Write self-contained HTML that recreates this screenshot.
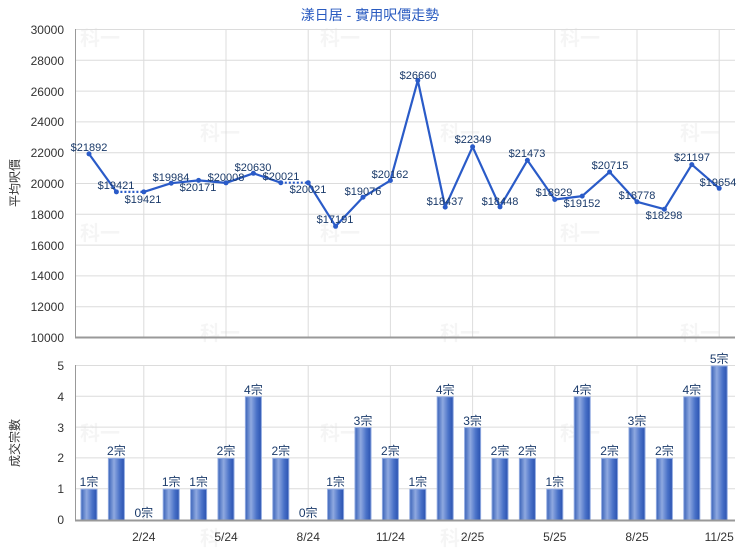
<!DOCTYPE html>
<html><head><meta charset="utf-8"><style>
body{margin:0;background:#fff}
svg{display:block;font-family:"Liberation Sans","Noto Sans CJK TC",sans-serif}
</style></head><body>
<svg width="740" height="550" viewBox="0 0 740 550" xmlns="http://www.w3.org/2000/svg">
<defs>
<linearGradient id="bg" x1="0" x2="1" y1="0" y2="0">
<stop offset="0" stop-color="#3a63b8"/><stop offset="0.35" stop-color="#8fa9e0"/><stop offset="0.7" stop-color="#4a72c8"/><stop offset="1" stop-color="#2a52b0"/>
</linearGradient>
</defs>
<text x="370" y="20" text-anchor="middle" font-size="14" fill="#2a5bc0">漾日居 - 實用呎價走勢</text>
<g font-size="20" font-weight="bold" fill="#000" opacity="0.035">
<text x="80" y="45">科一</text><text x="320" y="45">科一</text><text x="560" y="45">科一</text>
<text x="200" y="140">科一</text><text x="440" y="140">科一</text><text x="680" y="140">科一</text>
<text x="80" y="240">科一</text><text x="320" y="240">科一</text><text x="560" y="240">科一</text>
<text x="200" y="340">科一</text><text x="440" y="340">科一</text><text x="680" y="340">科一</text>
<text x="80" y="440">科一</text><text x="320" y="440">科一</text><text x="560" y="440">科一</text>
<text x="200" y="545">科一</text><text x="440" y="545">科一</text>
</g>
<g stroke="#dcdcdc" stroke-width="1">
<line x1="75" x2="735" y1="29.5" y2="29.5"/><line x1="75" x2="735" y1="60.3" y2="60.3"/><line x1="75" x2="735" y1="91.1" y2="91.1"/><line x1="75" x2="735" y1="121.9" y2="121.9"/><line x1="75" x2="735" y1="152.7" y2="152.7"/><line x1="75" x2="735" y1="183.5" y2="183.5"/><line x1="75" x2="735" y1="214.3" y2="214.3"/><line x1="75" x2="735" y1="245.1" y2="245.1"/><line x1="75" x2="735" y1="275.9" y2="275.9"/><line x1="75" x2="735" y1="306.7" y2="306.7"/>
<line x1="143.8" x2="143.8" y1="29" y2="337"/><line x1="226" x2="226" y1="29" y2="337"/><line x1="308.2" x2="308.2" y1="29" y2="337"/><line x1="390.4" x2="390.4" y1="29" y2="337"/><line x1="472.6" x2="472.6" y1="29" y2="337"/><line x1="554.8" x2="554.8" y1="29" y2="337"/><line x1="637" x2="637" y1="29" y2="337"/><line x1="719.2" x2="719.2" y1="29" y2="337"/>
</g>
<line x1="75.5" x2="75.5" y1="29" y2="338" stroke="#999" stroke-width="1"/>
<line x1="75" x2="735" y1="337.5" y2="337.5" stroke="#999" stroke-width="2"/>
<g font-size="12" fill="#333" text-anchor="end">
<text x="64" y="34">30000</text><text x="64" y="65">28000</text><text x="64" y="96">26000</text><text x="64" y="126">24000</text><text x="64" y="157">22000</text><text x="64" y="188">20000</text><text x="64" y="219">18000</text><text x="64" y="250">16000</text><text x="64" y="280">14000</text><text x="64" y="311">12000</text><text x="64" y="342">10000</text>
</g>
<text transform="translate(19,183) rotate(-90)" text-anchor="middle" font-size="12" fill="#333">平均呎價</text>
<g fill="none" stroke="#2a5bc8" stroke-width="2.2" stroke-linejoin="round">
<polyline points="89,153.9 116.4,191.9"/>
<polyline points="143.8,191.9 171.2,183.2 198.6,180.4 226,182.9 253.4,173.3 280.8,182.7"/>
<polyline points="308.2,182.7 335.6,226.3 363,197.2 390.4,180.5 417.8,80.4 445.2,207.1 472.6,146.8 500,206.9 527.4,160.3 554.8,199.5 582.2,196.1 609.6,172 637,201.8 664.4,209.2 691.8,164.6 719.2,188.3"/>
</g>
<g fill="none" stroke="#2a5bc8" stroke-width="2.2" stroke-dasharray="2,2">
<line x1="116.4" y1="191.9" x2="143.8" y2="191.9"/><line x1="280.8" y1="182.7" x2="308.2" y2="182.7"/>
</g>
<g fill="#2a5bc8">
<circle cx="89" cy="153.9" r="2.5"/><circle cx="116.4" cy="191.9" r="2.5"/><circle cx="143.8" cy="191.9" r="2.5"/><circle cx="171.2" cy="183.2" r="2.5"/><circle cx="198.6" cy="180.4" r="2.5"/><circle cx="226" cy="182.9" r="2.5"/><circle cx="253.4" cy="173.3" r="2.5"/><circle cx="280.8" cy="182.7" r="2.5"/><circle cx="308.2" cy="182.7" r="2.5"/><circle cx="335.6" cy="226.3" r="2.5"/><circle cx="363" cy="197.2" r="2.5"/><circle cx="390.4" cy="180.5" r="2.5"/><circle cx="417.8" cy="80.4" r="2.5"/><circle cx="445.2" cy="207.1" r="2.5"/><circle cx="472.6" cy="146.8" r="2.5"/><circle cx="500" cy="206.9" r="2.5"/><circle cx="527.4" cy="160.3" r="2.5"/><circle cx="554.8" cy="199.5" r="2.5"/><circle cx="582.2" cy="196.1" r="2.5"/><circle cx="609.6" cy="172" r="2.5"/><circle cx="637" cy="201.8" r="2.5"/><circle cx="664.4" cy="209.2" r="2.5"/><circle cx="691.8" cy="164.6" r="2.5"/><circle cx="719.2" cy="188.3" r="2.5"/>
</g>
<g font-size="11" fill="#1a3a6a" text-anchor="middle">
<text x="89" y="151">$21892</text><text x="116" y="189">$19421</text><text x="143" y="203">$19421</text><text x="171" y="181">$19984</text><text x="198" y="191">$20171</text><text x="226" y="181">$20008</text><text x="253" y="171">$20630</text><text x="281" y="180">$20021</text><text x="308" y="193">$20021</text><text x="335" y="223">$17191</text><text x="363" y="195">$19076</text><text x="390" y="178">$20162</text><text x="418" y="79">$26660</text><text x="445" y="205">$18437</text><text x="473" y="143">$22349</text><text x="500" y="205">$18448</text><text x="527" y="157">$21473</text><text x="554" y="196">$18929</text><text x="582" y="207">$19152</text><text x="610" y="169">$20715</text><text x="637" y="199">$18778</text><text x="664" y="219">$18298</text><text x="692" y="161">$21197</text><text x="718" y="186">$19654</text>
</g>
<g stroke="#dcdcdc" stroke-width="1">
<line x1="75" x2="735" y1="365.5" y2="365.5"/><line x1="75" x2="735" y1="396.3" y2="396.3"/><line x1="75" x2="735" y1="427.1" y2="427.1"/><line x1="75" x2="735" y1="457.9" y2="457.9"/><line x1="75" x2="735" y1="488.7" y2="488.7"/>
<line x1="143.8" x2="143.8" y1="365" y2="520"/><line x1="226" x2="226" y1="365" y2="520"/><line x1="308.2" x2="308.2" y1="365" y2="520"/><line x1="390.4" x2="390.4" y1="365" y2="520"/><line x1="472.6" x2="472.6" y1="365" y2="520"/><line x1="554.8" x2="554.8" y1="365" y2="520"/><line x1="637" x2="637" y1="365" y2="520"/><line x1="719.2" x2="719.2" y1="365" y2="520"/>
</g>
<g fill="url(#bg)" stroke="#8fa9e0" stroke-width="1">
<rect x="81" y="489.2" width="16" height="30.8"/><rect x="108.4" y="458.4" width="16" height="61.6"/><rect x="163.2" y="489.2" width="16" height="30.8"/><rect x="190.6" y="489.2" width="16" height="30.8"/><rect x="218" y="458.4" width="16" height="61.6"/><rect x="245.4" y="396.8" width="16" height="123.2"/><rect x="272.8" y="458.4" width="16" height="61.6"/><rect x="327.6" y="489.2" width="16" height="30.8"/><rect x="355" y="427.6" width="16" height="92.4"/><rect x="382.4" y="458.4" width="16" height="61.6"/><rect x="409.8" y="489.2" width="16" height="30.8"/><rect x="437.2" y="396.8" width="16" height="123.2"/><rect x="464.6" y="427.6" width="16" height="92.4"/><rect x="492" y="458.4" width="16" height="61.6"/><rect x="519.4" y="458.4" width="16" height="61.6"/><rect x="546.8" y="489.2" width="16" height="30.8"/><rect x="574.2" y="396.8" width="16" height="123.2"/><rect x="601.6" y="458.4" width="16" height="61.6"/><rect x="629" y="427.6" width="16" height="92.4"/><rect x="656.4" y="458.4" width="16" height="61.6"/><rect x="683.8" y="396.8" width="16" height="123.2"/><rect x="711.2" y="366" width="16" height="154"/>
</g>
<line x1="75.5" x2="75.5" y1="365" y2="521" stroke="#999" stroke-width="1"/>
<line x1="75" x2="735" y1="520.5" y2="520.5" stroke="#999" stroke-width="2"/>
<g font-size="12" fill="#333" text-anchor="end">
<text x="64" y="370">5</text><text x="64" y="401">4</text><text x="64" y="432">3</text><text x="64" y="462">2</text><text x="64" y="493">1</text><text x="64" y="524">0</text>
</g>
<text transform="translate(19,443) rotate(-90)" text-anchor="middle" font-size="12" fill="#333">成交宗數</text>
<g font-size="12" fill="#1a3a6a" text-anchor="middle">
<text x="89" y="486">1宗</text><text x="116.4" y="455">2宗</text><text x="143.8" y="517">0宗</text><text x="171.2" y="486">1宗</text><text x="198.6" y="486">1宗</text><text x="226" y="455">2宗</text><text x="253.4" y="394">4宗</text><text x="280.8" y="455">2宗</text><text x="308.2" y="517">0宗</text><text x="335.6" y="486">1宗</text><text x="363" y="425">3宗</text><text x="390.4" y="455">2宗</text><text x="417.8" y="486">1宗</text><text x="445.2" y="394">4宗</text><text x="472.6" y="425">3宗</text><text x="500" y="455">2宗</text><text x="527.4" y="455">2宗</text><text x="554.8" y="486">1宗</text><text x="582.2" y="394">4宗</text><text x="609.6" y="455">2宗</text><text x="637" y="425">3宗</text><text x="664.4" y="455">2宗</text><text x="691.8" y="394">4宗</text><text x="719.2" y="363">5宗</text>
</g>
<g font-size="12" fill="#333" text-anchor="middle">
<text x="143.8" y="541">2/24</text><text x="226" y="541">5/24</text><text x="308.2" y="541">8/24</text><text x="390.4" y="541">11/24</text><text x="472.6" y="541">2/25</text><text x="554.8" y="541">5/25</text><text x="637" y="541">8/25</text><text x="719.2" y="541">11/25</text>
</g>
</svg>
</body></html>
